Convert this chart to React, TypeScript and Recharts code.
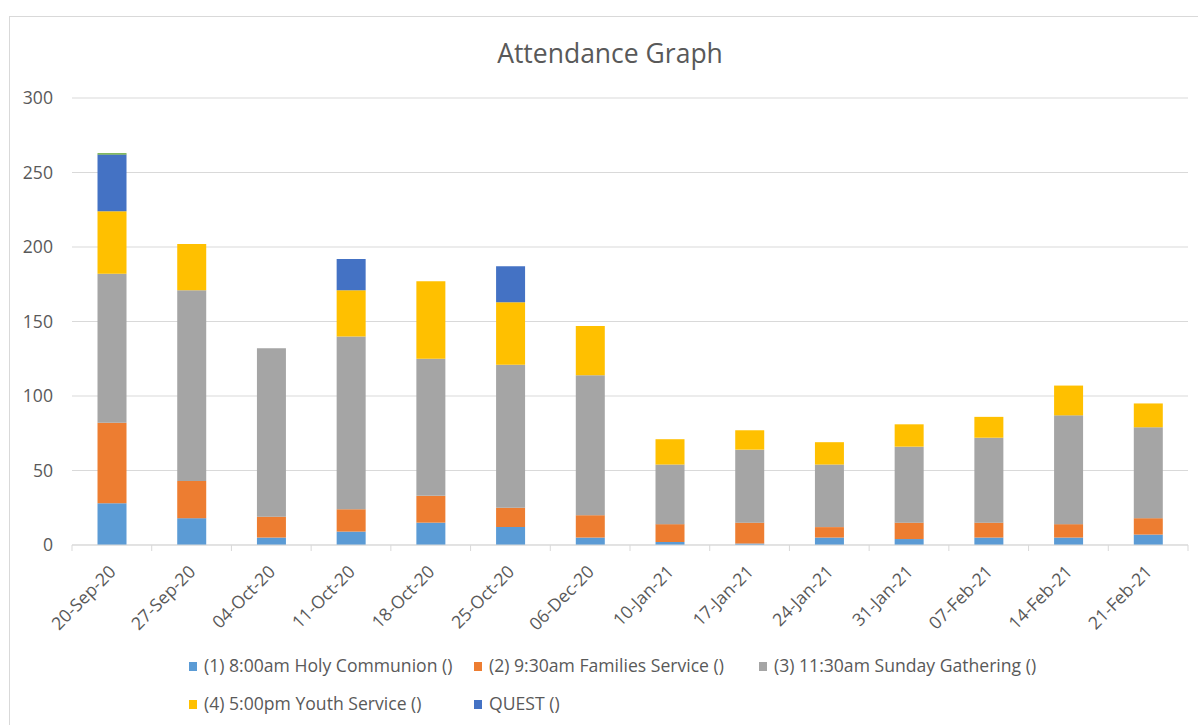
import React from 'react';
import { BarChart, Bar, XAxis, YAxis, CartesianGrid, Legend } from 'recharts';

const dates = ['20-Sep-20', '27-Sep-20', '04-Oct-20', '11-Oct-20', '18-Oct-20', '25-Oct-20', '06-Dec-20', '10-Jan-21', '17-Jan-21', '24-Jan-21', '31-Jan-21', '07-Feb-21', '14-Feb-21', '21-Feb-21'];
const holyCommunion = [28, 18, 5, 9, 15, 12, 5, 2, 1, 5, 4, 5, 5, 7];
const familiesService = [54, 25, 14, 15, 18, 13, 15, 12, 14, 7, 11, 10, 9, 11];
const sundayGathering = [100, 128, 113, 116, 92, 96, 94, 40, 49, 42, 51, 57, 73, 61];
const youthService = [42, 31, 0, 31, 52, 42, 33, 17, 13, 15, 15, 14, 20, 16];
const quest = [38, 0, 0, 21, 0, 24, 0, 0, 0, 0, 0, 0, 0, 0];
const other = [1, 0, 0, 0, 0, 0, 0, 0, 0, 0, 0, 0, 0, 0];
const yTicks = [0, 50, 100, 150, 200, 250, 300];

const seriesNames = [
  '(1) 8:00am Holy Communion ()',
  '(2) 9:30am Families Service ()',
  '(3) 11:30am Sunday Gathering ()',
  '(4) 5:00pm Youth Service ()',
  'QUEST ()',
];

const data = dates.map((d, i) => ({
  date: d,
  s1: holyCommunion[i],
  s2: familiesService[i],
  s3: sundayGathering[i],
  s4: youthService[i],
  s5: quest[i],
  s6: other[i],
}));

const FONT = "'Open Sans', sans-serif";
const TEXT = '#595959';
const GRID = '#d9d9d9';
const FS = 17.6;

const XTick = (props: any) => {
  const { x, y, payload, index } = props;
  const half = payload && typeof payload.offset === 'number' && payload.offset > 0 ? payload.offset : 39.86;
  return (
    <g>
      <line x1={x - half} x2={x - half} y1={y} y2={y + 6} stroke={GRID} strokeWidth={1} />
      {index === dates.length - 1 && (
        <line x1={x + half} x2={x + half} y1={y} y2={y + 6} stroke={GRID} strokeWidth={1} />
      )}
      <text
        transform={`translate(${x + 5},${y + 28}) rotate(-45)`}
        textAnchor="end"
        fill={TEXT}
        fontSize={FS}
        fontFamily={FONT}
      >
        {payload.value}
      </text>
    </g>
  );
};

const legendX = [189, 474, 759, 189, 474];
const legendY = [37, 37, 37, 75, 75];

const LegendContent = (props: any) => {
  const items = (props.payload || []).filter((p: any) => p.type !== 'none');
  return (
    <svg width={1198} height={80} style={{ display: 'block' }}>
      {items.map((p: any, i: number) => (
        <g key={p.value}>
          <rect x={legendX[i]} y={legendY[i] - 10} width={8} height={9} fill={p.color} />
          <text x={legendX[i] + 15} y={legendY[i]} fill={TEXT} fontSize={FS} fontFamily={FONT}>
            {p.value}
          </text>
        </g>
      ))}
    </svg>
  );
};

export default function App() {
  return (
    <div style={{ position: 'absolute', left: 0, top: 0, width: 1198, height: 725, overflow: 'hidden', background: '#fff' }}>
      <div style={{ position: 'absolute', left: 9, top: 16, width: 1250, height: 800, border: `1px solid ${GRID}` }} />
      <svg style={{ position: 'absolute', left: 0, top: 0 }} width={1198} height={100}>
        <text x={610} y={63} textAnchor="middle" fill={TEXT} fontSize={26.5} fontFamily={FONT}>
          Attendance Graph
        </text>
      </svg>
      <div style={{ position: 'absolute', left: 0, top: 0 }}>
        <BarChart
          width={1198}
          height={725}
          data={data}
          margin={{ top: 98, right: 10, left: 0, bottom: 10 }}
          barCategoryGap="32%"
        >
          <CartesianGrid vertical={false} stroke={GRID} strokeWidth={1} />
          <XAxis
            dataKey="date"
            interval={0}
            height={90}
            tickSize={0}
            tickMargin={0}
            tickLine={false}
            axisLine={{ stroke: GRID, strokeWidth: 1 }}
            tick={<XTick />}
          />
          <YAxis
            width={72}
            domain={[0, 300]}
            ticks={yTicks}
            axisLine={false}
            tickLine={false}
            tickSize={0}
            tickMargin={19}
            tick={{ fill: TEXT, fontSize: FS, fontFamily: FONT }}
          />
          <Legend
            verticalAlign="bottom"
            align="left"
            height={80}
            wrapperStyle={{ left: 0, width: 1198 }}
            content={<LegendContent />}
          />
          <Bar dataKey="s1" name={seriesNames[0]} stackId="a" fill="#5B9BD5" isAnimationActive={false} />
          <Bar dataKey="s2" name={seriesNames[1]} stackId="a" fill="#ED7D31" isAnimationActive={false} />
          <Bar dataKey="s3" name={seriesNames[2]} stackId="a" fill="#A5A5A5" isAnimationActive={false} />
          <Bar dataKey="s4" name={seriesNames[3]} stackId="a" fill="#FFC000" isAnimationActive={false} />
          <Bar dataKey="s5" name={seriesNames[4]} stackId="a" fill="#4472C4" isAnimationActive={false} />
          <Bar dataKey="s6" name="(5)" stackId="a" fill="#70AD47" legendType="none" isAnimationActive={false} />
        </BarChart>
      </div>
    </div>
  );
}
